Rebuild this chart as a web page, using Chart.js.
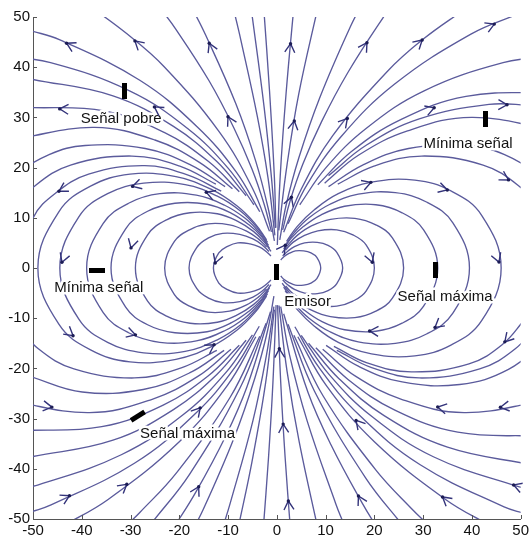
<!DOCTYPE html>
<html><head><meta charset="utf-8">
<script src="https://cdn.jsdelivr.net/npm/chart.js@4/dist/chart.umd.min.js"></script>
<style>html,body{margin:0;padding:0;background:#fff}</style>
</head><body>
<canvas id="c" width="532" height="539"></canvas>
<script>
// ---- tick values ----
const xTicks = [-50,-40,-30,-20,-10,0,10,20,30,40,50];
const yTicks = [-50,-40,-30,-20,-10,0,10,20,30,40,50];

// ---- closed field loops, right of the emitter (x,y points) ----
const loopsRight = [
 [[0.8,1.6],[1.5,2.3],[2.5,2.9],[3.8,3.4],[5.5,3.4],[7.0,3.0],[8.2,2.1],[9,0],[8.2,-2.1],[7.0,-3.0],[5.5,-3.4],[3.8,-3.4],[2.5,-2.9],[1.5,-2.3],[0.8,-1.6]],
 [[1.2,2.4],[2.3,3.4],[3.7,4.3],[5.7,5.0],[8.3,5.1],[10.5,4.5],[12.3,3.1],[13.5,0],[12.3,-3.1],[10.5,-4.5],[8.3,-5.1],[5.7,-5.0],[3.7,-4.3],[2.3,-3.4],[1.2,-2.4]],
 [[1.8,3.6],[3.3,5.1],[5.5,6.4],[8.4,7.4],[12.3,7.6],[15.6,6.6],[18.3,4.6],[20,0],[18.3,-4.6],[15.6,-6.6],[12.3,-7.6],[8.4,-7.4],[5.5,-6.4],[3.3,-5.1],[1.8,-3.6]],
 [[1.1,3.0],[2.4,4.7],[4.3,6.6],[7.1,8.4],[11.0,9.7],[16.0,9.9],[20.3,8.6],[23.7,6.0],[26,0],[23.7,-6.0],[20.3,-8.6],[16.0,-9.9],[11.0,-9.7],[7.1,-8.4],[4.3,-6.6],[2.4,-4.7],[1.1,-3.0]],
 [[1.4,3.8],[3.0,6.0],[5.5,8.3],[9.1,10.6],[13.9,12.3],[20.3,12.6],[25.7,11.0],[30.1,7.6],[33,0],[30.1,-7.6],[25.7,-11.0],[20.3,-12.6],[13.9,-12.3],[9.1,-10.6],[5.5,-8.3],[3.0,-6.0],[1.4,-3.8]],
 [[1.7,4.5],[3.6,7.1],[6.6,10.0],[10.9,12.7],[16.7,14.7],[24.3,15.0],[30.8,13.1],[36.1,9.0],[39.5,0],[36.1,-9.0],[30.8,-13.1],[24.3,-15.0],[16.7,-14.7],[10.9,-12.7],[6.6,-10.0],[3.6,-7.1],[1.7,-4.5]],
 [[2.0,5.3],[4.2,8.3],[7.7,11.6],[12.6,14.8],[19.4,17.1],[28.3,17.5],[35.8,15.3],[42.0,10.5],[46,0],[42.0,-10.5],[35.8,-15.3],[28.3,-17.5],[19.4,-17.1],[12.6,-14.8],[7.7,-11.6],[4.2,-8.3],[2.0,-5.3]]
];

// ---- closed field loops, left of the emitter ----
const loopsLeft = [
 [[-1.2,2.4],[-2.2,3.3],[-3.6,4.2],[-5.5,4.8],[-8.0,5.0],[-10.1,4.3],[-11.9,3.0],[-13,0],[-11.9,-3.0],[-10.1,-4.3],[-8.0,-5.0],[-5.5,-4.8],[-3.6,-4.2],[-2.2,-3.3],[-1.2,-2.4]],
 [[-1.6,3.3],[-3.0,4.6],[-4.9,5.8],[-7.6,6.7],[-11.1,6.9],[-14.0,6.0],[-16.4,4.1],[-18,0],[-16.4,-4.1],[-14.0,-6.0],[-11.1,-6.9],[-7.6,-6.7],[-4.9,-5.8],[-3.0,-4.6],[-1.6,-3.3]],
 [[-2.1,4.2],[-3.8,5.8],[-6.3,7.4],[-9.7,8.6],[-14.1,8.8],[-17.9,7.6],[-21.0,5.3],[-23,0],[-21.0,-5.3],[-17.9,-7.6],[-14.1,-8.8],[-9.7,-8.6],[-6.3,-7.4],[-3.8,-5.8],[-2.1,-4.2]],
 [[-1.2,3.3],[-2.6,5.2],[-4.8,7.3],[-8.0,9.3],[-12.2,10.8],[-17.8,11.0],[-22.6,9.6],[-26.5,6.6],[-29,0],[-26.5,-6.6],[-22.6,-9.6],[-17.8,-11.0],[-12.2,-10.8],[-8.0,-9.3],[-4.8,-7.3],[-2.6,-5.2],[-1.2,-3.3]],
 [[-1.5,3.9],[-3.1,6.2],[-5.7,8.6],[-9.3,10.9],[-14.3,12.7],[-20.9,12.9],[-26.5,11.3],[-31.0,7.8],[-34,0],[-31.0,-7.8],[-26.5,-11.3],[-20.9,-12.9],[-14.3,-12.7],[-9.3,-10.9],[-5.7,-8.6],[-3.1,-6.2],[-1.5,-3.9]],
 [[-1.7,4.5],[-3.6,7.1],[-6.5,9.9],[-10.7,12.5],[-16.5,14.5],[-24.0,14.8],[-30.4,12.9],[-35.6,8.9],[-39,0],[-35.6,-8.9],[-30.4,-12.9],[-24.0,-14.8],[-16.5,-14.5],[-10.7,-12.5],[-6.5,-9.9],[-3.6,-7.1],[-1.7,-4.5]],
 [[-1.9,5.1],[-4.1,8.1],[-7.4,11.3],[-12.2,14.3],[-18.8,16.6],[-27.3,16.9],[-34.7,14.8],[-40.6,10.2],[-44.5,0],[-40.6,-10.2],[-34.7,-14.8],[-27.3,-16.9],[-18.8,-16.6],[-12.2,-14.3],[-7.4,-11.3],[-4.1,-8.1],[-1.9,-5.1]],
 [[-2.1,5.6],[-4.5,8.9],[-8.2,12.4],[-13.5,15.7],[-20.7,18.2],[-30.1,18.7],[-38.2,16.3],[-44.7,11.2],[-49,0],[-44.7,-11.2],[-38.2,-16.3],[-30.1,-18.7],[-20.7,-18.2],[-13.5,-15.7],[-8.2,-12.4],[-4.5,-8.9],[-2.1,-5.6]]
];

// ---- open field lines leaving the frame, one list per quadrant ----
const linesTopRight = [
 [[0.1,4.6],[0.7,18.4],[1.9,34.8],[3.6,53.2]],
 [[0.4,7.5],[2.1,20.6],[4.5,34.7],[8.5,52.3]],
 [[0.6,5.6],[1.9,12.5],[4.5,21.9],[8.8,33.9],[15.1,48.1],[18.4,54.3]],
 [[1.2,7.6],[2.7,13.3],[5.3,20.6],[9.2,29.2],[14.6,39],[21.8,49.9],[25.2,54.4]],
 [[1.4,7.1],[4.9,15.5],[11.5,26.4],[22.5,39],[29.9,45.5],[38.9,51.8]],
 [[2.3,8.8],[6.2,16.6],[13.2,26.2],[24.1,36.6],[39.8,46.6],[49.7,50.7]],
 [[4.7,12.6],[10,19.9],[18.3,27.8],[30.2,35.3],[46.4,40.9],[56.3,42.2]],
 [[8.4,16.6],[15.3,23.2],[25.3,29.5],[38.8,34.2],[56.5,35]],
 [[10.6,18.4],[18.4,24.5],[29.2,29.7],[43.5,32.6],[52.2,32.4]],
 [[9.8,16.9],[16.8,22.5],[26.8,27.3],[39.9,30],[56.9,27.5]],
 [[10.6,16.2],[17.6,20.5],[27,23.8],[39.3,24.4],[46.7,22.6],[54.9,18]],
 [[12.5,16.7],[19.9,20.3],[29.7,22.3],[42.3,20.5],[49.7,16.3],[54.6,11.1]]
];
const linesTopLeft = [
 [[-0.2,8],[-0.5,18],[-1.5,35.3],[-2.7,52]],
 [[-0.3,8],[-1.1,18],[-2.6,32],[-5.3,52]],
 [[-0.4,6.5],[-1.8,17.9],[-4,30.2],[-7.4,45.5],[-8.8,51.3]],
 [[-0.5,5.4],[-1.8,12],[-4.3,21.2],[-8.4,32.7],[-14.6,46.4],[-17.7,52.4]],
 [[-1.1,7.2],[-2.6,12.7],[-5.1,19.7],[-8.8,27.9],[-13.9,37.3],[-20.8,47.7],[-24.1,52]],
 [[-1.5,7.3],[-5,15.9],[-11.8,27.1],[-23.1,40.1],[-30.8,46.7],[-40,53.3]],
 [[-3.5,11.2],[-8.3,19.1],[-16.3,28.1],[-28.1,37.4],[-44.6,45.5],[-50.6,47.3]],
 [[-4.7,12.6],[-10,19.9],[-18.3,27.8],[-30.2,35.3],[-46.4,40.9],[-56.3,42.2]],
 [[-6.3,14.4],[-12.3,21.2],[-21.2,28.2],[-33.6,34.3],[-50.2,37.6]],
 [[-7.7,15.2],[-14,21.2],[-23.1,27],[-35.4,31.3],[-51.6,32]],
 [[-9.1,15.8],[-15.8,21],[-25,25.5],[-37.4,28],[-53.2,25.8]],
 [[-10.6,16.2],[-17.6,20.5],[-27,23.8],[-39.3,24.4],[-46.7,22.6],[-54.9,18]],
 [[-12.5,16.7],[-19.9,20.3],[-29.7,22.3],[-42.3,20.5],[-49.7,16.3],[-54.6,11.1]],
 [[-11.4,15.3],[-18.2,18.5],[-27.1,20.4],[-38.6,18.7],[-45.4,14.9],[-49.9,10.1],[-53,0]]
];
const linesBottomRight = [
 [[11.7,-15.6],[18.5,-18.9],[27.6,-20.7],[39.4,-19.1],[46.3,-15.2],[50.8,-10.3]],
 [[12.3,-16.4],[19.6,-19.9],[29.2,-21.9],[41.6,-20.1],[48.9,-16.1],[53.6,-10.9]],
 [[10.1,-15.4],[16.8,-19.6],[25.7,-22.7],[37.5,-23.2],[47.5,-20.2],[55.7,-14]],
 [[9.4,-16.2],[16.2,-21.6],[25.7,-26.2],[38.4,-28.8],[54.7,-26.5]],
 [[8,-15.9],[14.6,-22.2],[24.2,-28.3],[37.1,-32.7],[54,-33.5]],
 [[6.5,-15],[12.8,-22.1],[22,-29.4],[35,-35.7],[52.2,-39.2]],
 [[5,-13.4],[10.7,-21.2],[19.5,-29.6],[32.1,-37.6],[49.4,-43.5],[53.4,-44.3]],
 [[3.7,-11.7],[8.7,-19.9],[17,-29.4],[29.4,-39.2],[46.6,-47.6],[50.8,-48.9]],
 [[4.3,-13.7],[10.2,-23.5],[20,-34.6],[34.6,-46.1],[43.9,-51.4]],
 [[3.5,-13.4],[9.5,-25.5],[20.2,-40.1],[27.8,-48.1],[31.2,-51.3]],
 [[2.3,-11.2],[7.7,-24.5],[18.2,-41.8],[26,-51.5]],
 [[1.4,-9.1],[6.4,-24.8],[11.1,-35.2],[17.6,-47],[20.8,-52.1]],
 [[0.8,-7.7],[2.6,-17.3],[6.2,-30.4],[12.1,-47],[13.6,-50.7]],
 [[0.45,-7.5],[2.1,-20.6],[4.6,-34.7],[8.5,-52.3]],
 [[0.15,-7.4],[0.8,-22.8],[1.7,-37.7],[2.8,-52.2]]
];
const linesBottomLeft = [
 [[-12.3,-16.4],[-19.6,-19.9],[-29.2,-21.9],[-41.6,-20.1],[-48.9,-16.1],[-53.6,-10.9]],
 [[-10.8,-16.4],[-17.9,-20.9],[-27.4,-24.2],[-39.9,-24.7],[-50.6,-21.6]],
 [[-9.4,-16.2],[-16.2,-21.6],[-25.7,-26.2],[-38.4,-28.8],[-54.7,-26.5]],
 [[-7.7,-15.4],[-14.1,-21.5],[-23.3,-27.3],[-35.9,-31.6],[-52.2,-32.4]],
 [[-6.3,-14.4],[-12.3,-21.2],[-21.2,-28.2],[-33.6,-34.3],[-50.2,-37.6]],
 [[-5,-13.3],[-10.6,-21],[-19.3,-29.3],[-31.9,-37.2],[-48.9,-43.2],[-53,-43.9]],
 [[-3.6,-11.6],[-8.6,-19.8],[-16.9,-29.2],[-29.2,-38.9],[-46.3,-47.2],[-50.4,-48.6]],
 [[-4.3,-13.7],[-10.2,-23.5],[-20,-34.6],[-34.6,-46.1],[-43.9,-51.4]],
 [[-3.5,-13.6],[-9.6,-25.8],[-20.5,-40.7],[-28.1,-48.7],[-31.6,-52]],
 [[-2.2,-11],[-7.6,-24],[-17.9,-41.1],[-25.5,-50.6]],
 [[-1.3,-8.7],[-6.1,-23.6],[-10.5,-33.5],[-16.7,-44.8],[-21.4,-52.1]],
 [[-0.6,-5.6],[-1.9,-12.5],[-4.5,-21.9],[-8.8,-33.9],[-15.1,-48.1],[-18.4,-54.3]],
 [[-0.6,-7.7],[-2.1,-17.2],[-4.9,-30.4],[-9.6,-47],[-11.1,-51.7]],
 [[-0.5,-8.3],[-2.3,-22.9],[-5.1,-38.6],[-7.8,-51.2]],
 [[-0.15,-7.4],[-0.8,-22.8],[-1.7,-37.7],[-2.8,-52.2]]
];

// ---- arrowheads: x, y, direction of travel (degrees, counter-clockwise from +x) ----
const arrows = [
 [-43.1,44.8,165],[-29.5,44.8,140],[-13.8,44.8,110],[-9.7,30.3,108],[-44.5,32.3,178],[-25.1,32.1,150],
 [-44.5,15,235],[-29.5,16,180],[-14.5,15,160],[-29.9,4,255],[-44.5,1.3,270],[-13.5,1.3,270],
 [2.6,44.7,88],[18.6,44.8,60],[30.2,45,35],[44.5,48.8,20],[3.6,29.3,80],[14.2,30,55],[3.3,14,70],
 [32.2,32.1,12],[47.2,32.3,0],[19.3,17,8],[35,15.7,-20],[47.6,17.7,-35],[1.5,4.7,60],[20,1.3,-90],[45.9,1.3,-90],
 [-42.8,-14.7,-50],[-28.8,-12.7,-12],[-12.8,-15.4,20],[-46.2,-28.2,5],[-15.9,-27.7,50],[-42.5,-45.4,25],[-30.5,-43.4,45],[-15.2,-44,70],
 [19,-13.1,172],[32.9,-12.4,185],[47.2,-15.1,205],[32.9,-28.1,183],[45.9,-28.1,180],[48.6,-43.1,190],[33.9,-45.7,145],
 [16.2,-30.4,120],[16.2,-45.7,112],[0.5,-16.1,90],[1.2,-31.1,90],[2.6,-46.4,95]
];

// ---- receiver / emitter markers ----
const markerX = [-31.2, 42.8, -36.8, 0, 32.6, -28.5];
const markerY = [35.3, 29.7, -0.4, -0.8, -0.3, -29.5];
const markerRot = [0, 0, 90, 0, 0, 58];

// ---- annotations ----
const labelText = ['Señal pobre','Mínima señal','Mínima señal','Emisor','Señal máxima','Señal máxima'];
const labelX = [-31.9, 39.2, -36.5, 6.3, 34.5, -18.3];
const labelY = [29.7, 24.8, -3.9, -6.7, -5.7, -33.1];

const LINE_COLOR = '#5b5b9c';
const ARROW_COLOR = '#33337a';
const FONT = '"Liberation Sans", Arial, Helvetica, sans-serif';

const allLines = [].concat(loopsRight, loopsLeft, linesTopRight, linesTopLeft, linesBottomRight, linesBottomLeft);

// marker glyph (a thick black bar)
const bar = document.createElement('canvas');
bar.width = 5; bar.height = 16;
(function(){ const g = bar.getContext('2d'); g.fillStyle = '#000'; g.fillRect(0,0,5,16); })();

const datasets = [{
  label: 'markers',
  data: markerX.map((x,i)=>({x:x, y:markerY[i]})),
  showLine: false,
  pointStyle: bar,
  pointRadius: 8,
  pointRotation: ctx => markerRot[ctx.dataIndex] || 0,
  order: 0
}];
allLines.forEach((pts,i)=>{
  datasets.push({
    label: 'line'+i,
    data: pts.map(p=>({x:p[0], y:p[1]})),
    showLine: true,
    borderColor: LINE_COLOR,
    borderWidth: 1.35,
    pointRadius: 0,
    tension: 0.4,
    fill: false,
    order: 1
  });
});

const overlay = {
  id: 'overlay',
  afterDatasetsDraw(chart) {
    const ctx = chart.ctx, xs = chart.scales.x, ys = chart.scales.y, area = chart.chartArea;
    // inward tick marks
    ctx.save();
    ctx.strokeStyle = '#555'; ctx.lineWidth = 1;
    ctx.beginPath();
    xTicks.forEach(v=>{ const px = Math.round(xs.getPixelForValue(v))+0.5; ctx.moveTo(px, area.bottom); ctx.lineTo(px, area.bottom-4); });
    yTicks.forEach(v=>{ const py = Math.round(ys.getPixelForValue(v))+0.5; ctx.moveTo(area.left, py); ctx.lineTo(area.left+4, py); });
    ctx.stroke();
    ctx.restore();

    // annotations, with a white halo so the field lines break around the words
    ctx.save();
    ctx.font = '15px ' + FONT;
    ctx.textAlign = 'center';
    ctx.textBaseline = 'middle';
    ctx.lineJoin = 'round';
    labelText.forEach((t,i)=>{
      const px = xs.getPixelForValue(labelX[i]), py = ys.getPixelForValue(labelY[i]);
      ctx.strokeStyle = '#fff'; ctx.lineWidth = 5;
      ctx.strokeText(t, px, py);
      ctx.fillStyle = '#111';
      ctx.fillText(t, px, py);
    });
    ctx.restore();

    // collect polylines in pixel space for snapping arrowheads onto curves
    const segs = [];
    chart.data.datasets.forEach((ds,di)=>{
      if (!ds.showLine) return;
      const meta = chart.getDatasetMeta(di);
      for (let k=0;k<meta.data.length-1;k++){
        segs.push([meta.data[k].x, meta.data[k].y, meta.data[k+1].x, meta.data[k+1].y]);
      }
    });
    ctx.save();
    ctx.beginPath();
    ctx.rect(area.left, area.top-2, area.right-area.left+2, area.bottom-area.top+2);
    ctx.clip();
    arrows.forEach(a=>{
      let ax = xs.getPixelForValue(a[0]), ay = ys.getPixelForValue(a[1]);
      const rad = a[2]*Math.PI/180;
      let ux = Math.cos(rad), uy = -Math.sin(rad);
      let best = null, bd = 1e9;
      segs.forEach(s=>{
        const dx = s[2]-s[0], dy = s[3]-s[1], L2 = dx*dx+dy*dy;
        if (L2 < 1e-6) return;
        let t = ((ax-s[0])*dx + (ay-s[1])*dy)/L2; t = Math.max(0, Math.min(1, t));
        const qx = s[0]+t*dx, qy = s[1]+t*dy;
        const d = Math.hypot(ax-qx, ay-qy);
        const L = Math.sqrt(L2);
        const align = Math.abs((dx*ux+dy*uy)/L);
        const score = d + (1-align)*6;
        if (score < bd) { bd = score; best = [qx,qy,dx/L,dy/L,d]; }
      });
      if (best && best[4] < 9) {
        ax = best[0]; ay = best[1];
        let vx = best[2], vy = best[3];
        if (vx*ux+vy*uy < 0) { vx = -vx; vy = -vy; }
        ux = vx; uy = vy;
      }
      const len = 10, ang = 30*Math.PI/180;
      const bx = -ux, by = -uy;
      const c = Math.cos(ang), s = Math.sin(ang);
      ctx.strokeStyle = ARROW_COLOR; ctx.lineWidth = 1.4;
      ctx.beginPath();
      ctx.moveTo(ax + len*(bx*c - by*s), ay + len*(bx*s + by*c));
      ctx.lineTo(ax, ay);
      ctx.lineTo(ax + len*(bx*c + by*s), ay + len*(-bx*s + by*c));
      ctx.stroke();
      ctx.fillStyle = '#1c1c55';
      ctx.beginPath(); ctx.arc(ax, ay, 1.7, 0, Math.PI*2); ctx.fill();
    });
    ctx.restore();
  }
};

new Chart(document.getElementById('c'), {
  type: 'scatter',
  data: { datasets },
  options: {
    responsive: false,
    animation: false,
    devicePixelRatio: 1,
    layout: { padding: { top: 17, right: 10, left: 0, bottom: 0 } },
    plugins: { legend: { display: false }, tooltip: { enabled: false } },
    events: [],
    scales: {
      x: {
        type: 'linear', min: -50, max: 50,
        afterBuildTicks: s => { s.ticks = xTicks.map(v=>({value:v})); },
        afterFit: s => { s.height = 20; },
        ticks: { color: '#111', font: { size: 15, family: FONT }, padding: 3, maxRotation: 0, autoSkip: false },
        grid: { display: false, drawTicks: false },
        border: { display: true, color: '#555', width: 1 }
      },
      y: {
        type: 'linear', min: -50, max: 50,
        afterBuildTicks: s => { s.ticks = yTicks.map(v=>({value:v})); },
        afterFit: s => { s.width = 33; },
        ticks: { color: '#111', font: { size: 15, family: FONT }, padding: 3, autoSkip: false },
        grid: { display: false, drawTicks: false },
        border: { display: true, color: '#555', width: 1 }
      }
    }
  },
  plugins: [overlay]
});
</script>
</body></html>
